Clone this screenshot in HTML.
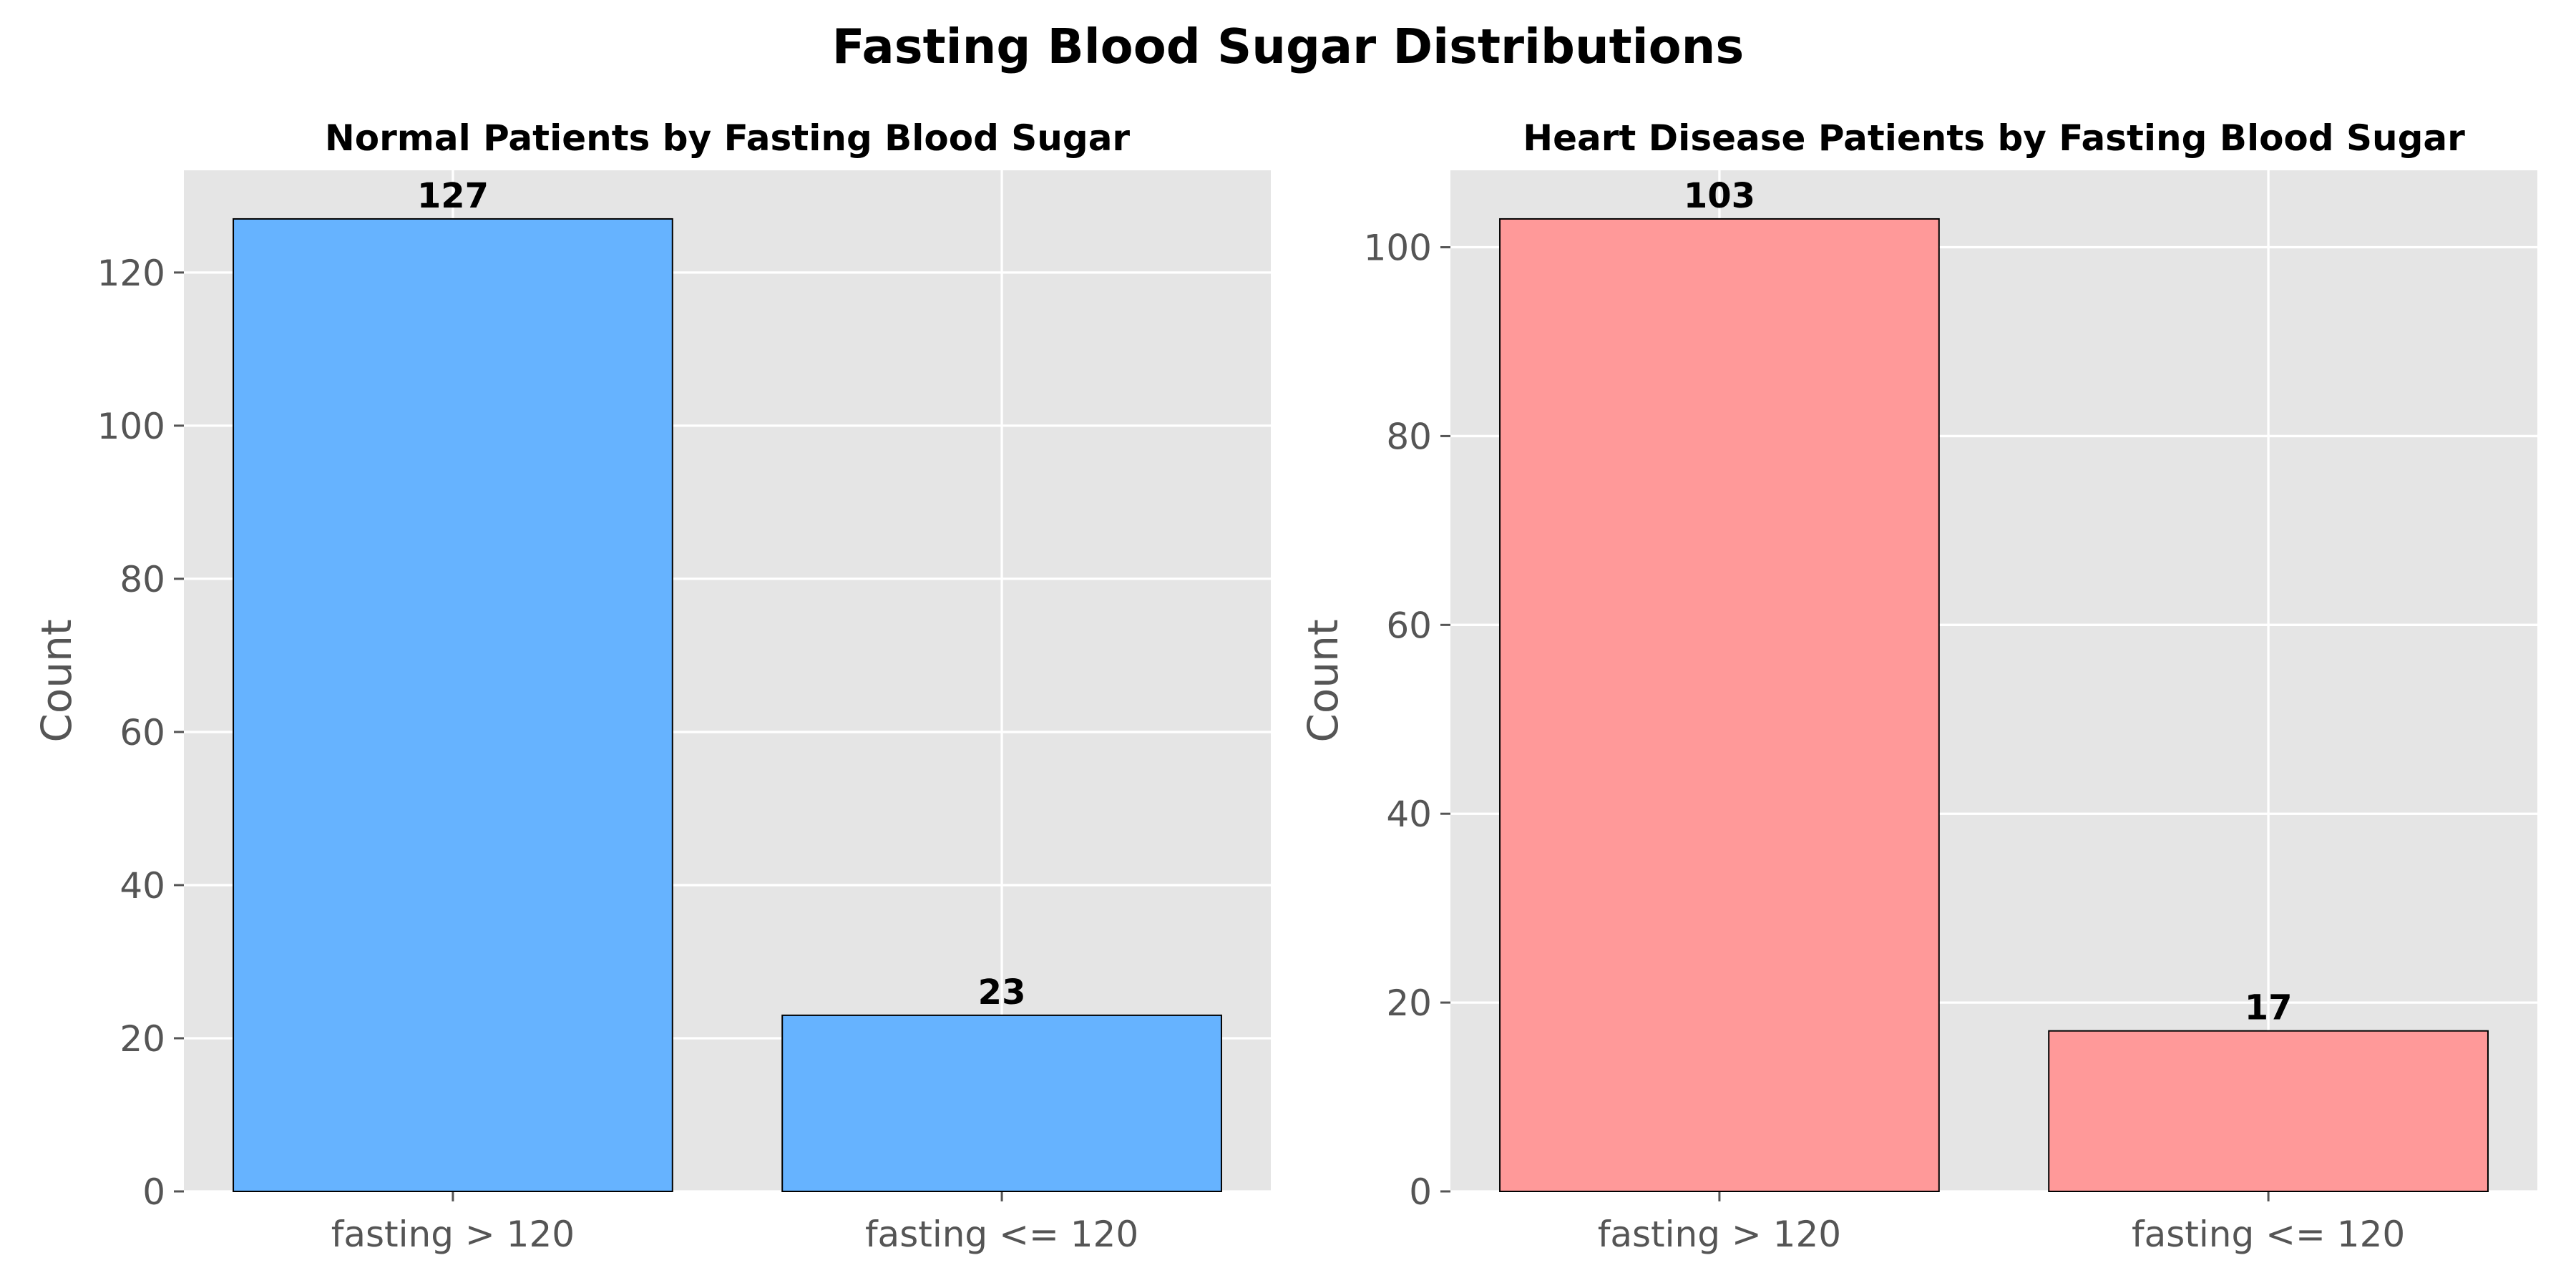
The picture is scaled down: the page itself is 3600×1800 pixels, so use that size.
<!DOCTYPE html>
<html><head><meta charset="utf-8"><style>body{margin:0;background:#fff}svg{display:block}</style></head>
<body>
<svg id="c" width="3600" height="1800" xmlns="http://www.w3.org/2000/svg" font-family="'DejaVu Sans','Liberation Sans',sans-serif">
<text x="1800" y="88" text-anchor="middle" font-size="67" font-weight="bold">Fasting Blood Sugar Distributions</text>
</svg>
<script>
const categories = ["fasting > 120", "fasting <= 120"];
const normalCounts = [127, 23];
const diseaseCounts = [103, 17];
const normalTicks = [0, 20, 40, 60, 80, 100, 120];
const diseaseTicks = [0, 20, 40, 60, 80, 100];
const NS = "http://www.w3.org/2000/svg";
const svg = document.getElementById("c");
function mk(tag, attrs, parent) {
  const e = document.createElementNS(NS, tag);
  for (const k in attrs) e.setAttribute(k, attrs[k]);
  (parent || svg).appendChild(e);
  return e;
}
function panel(left, values, ticks, color, title, prefix) {
  const top = 238, bottom = 1665, width = 1519;
  const ymax = Math.max(...values) * 1.05;
  const xs = v => left + (v + 0.49) / 1.98 * width;
  const ys = v => bottom - v / ymax * (bottom - top);
  const g = mk("g", {});
  
  
  const bg = mk("rect", {x: left, y: top, width: width, height: bottom - top, fill: "#e5e5e5"}, g);
  
  
  ticks.forEach(t => {
    const y = ys(t);
    const gl = mk("line", {x1: left, x2: left + width, y1: y, y2: y, stroke: "#fff", "stroke-width": 3.3}, g);
    
    
    mk("line", {x1: left - 14, x2: left, y1: y, y2: y, stroke: "#555", "stroke-width": 3}, g);
    const tl = mk("text", {x: left - 26, y: y + 18, "text-anchor": "end", "font-size": 50, fill: "#555"}, g);
    tl.textContent = t;
    
    
  });
  categories.forEach((c, i) => {
    const x = xs(i);
    const gl = mk("line", {x1: x, x2: x, y1: top, y2: bottom, stroke: "#fff", "stroke-width": 3.3}, g);
    
    
    mk("line", {x1: x, x2: x, y1: bottom, y2: bottom + 14, stroke: "#555", "stroke-width": 3}, g);
    const tl = mk("text", {x: x, y: 1742, "text-anchor": "middle", "font-size": 50, fill: "#555"}, g);
    tl.textContent = c;
    
    
  });
  values.forEach((v, i) => {
    const x0 = xs(i - 0.4), x1 = xs(i + 0.4);
    const b = mk("rect", {x: x0, y: ys(v), width: x1 - x0, height: bottom - ys(v), fill: color, stroke: "#000", "stroke-width": 2}, g);
    
    
    const l = mk("text", {x: xs(i), y: ys(v) - 16, "text-anchor": "middle", "font-size": 48, "font-weight": "bold"}, g);
    l.textContent = v;
    
    
  });
  const t = mk("text", {x: left + width / 2, y: 210, "text-anchor": "middle", "font-size": 50, "font-weight": "bold"}, g);
  t.textContent = title;
  
  
  const cx = left - 158, cy = (top + bottom) / 2;
  const yl = mk("text", {x: cx, y: cy, "text-anchor": "middle", "font-size": 58, fill: "#555", transform: `rotate(-90 ${cx} ${cy})`}, g);
  yl.textContent = "Count";
  
  
}
panel(257, normalCounts, normalTicks, "#66b3ff", "Normal Patients by Fasting Blood Sugar", "normal");
panel(2027, diseaseCounts, diseaseTicks, "#ff9999", "Heart Disease Patients by Fasting Blood Sugar", "disease");
</script>
</body></html>
